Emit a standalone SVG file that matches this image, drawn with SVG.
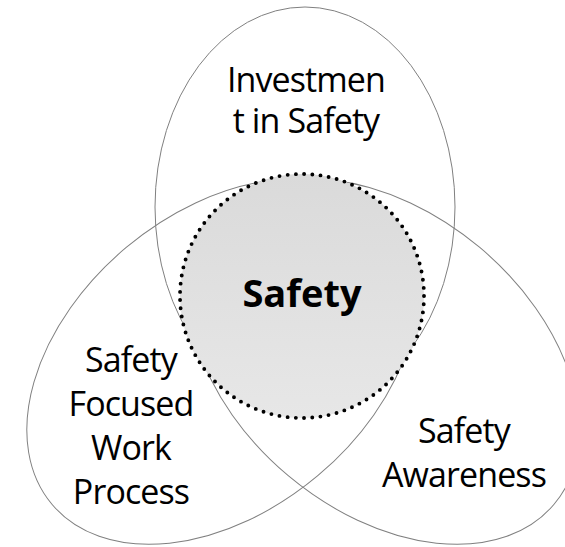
<svg xmlns="http://www.w3.org/2000/svg" width="565" height="547" viewBox="0 0 565 547">
<defs>
<linearGradient id="coreFill" x1="0" y1="0" x2="0" y2="1">
<stop offset="0" stop-color="#dadada"/>
<stop offset="1" stop-color="#e7e7e7"/>
</linearGradient>
<style>
.ring{fill:none;stroke:#808080;stroke-width:1}
.lbl{font-family:"Open Sans","Noto Sans",sans-serif;font-size:34px;letter-spacing:-0.9px;fill:#000;text-anchor:middle}
.core{fill:url(#coreFill);stroke:#000;stroke-width:3.9;stroke-linecap:round;stroke-dasharray:0 8.24}
.bold{font-family:"Open Sans","Noto Sans",sans-serif;font-size:38px;font-weight:bold;fill:#000;text-anchor:middle}
</style>
</defs>
<rect width="565" height="547" fill="#fff"/>
<g id="investment">
<ellipse class="ring" cx="305" cy="207" rx="150" ry="200"/>
<text class="lbl"><tspan x="306" y="92">Investmen</tspan><tspan x="306" y="133">t in Safety</tspan></text>
</g>
<g id="work-process">
<ellipse class="ring" cx="0" cy="0" rx="222" ry="149" transform="translate(222 361.6) rotate(-40)"/>
<text class="lbl"><tspan x="131" y="372">Safety</tspan><tspan x="131" y="416">Focused</tspan><tspan x="131" y="460">Work</tspan><tspan x="131" y="504">Process</tspan></text>
</g>
<g id="awareness">
<ellipse class="ring" cx="0" cy="0" rx="222" ry="149" transform="translate(384 361.6) rotate(40)"/>
<text class="lbl"><tspan x="464" y="443">Safety</tspan><tspan x="464" y="487">Awareness</tspan></text>
</g>
<g id="connectors"/>
<g id="safety">
<circle class="core" cx="302" cy="296" r="122"/>
<text class="bold" x="302" y="307">Safety</text>
</g>
</svg>
